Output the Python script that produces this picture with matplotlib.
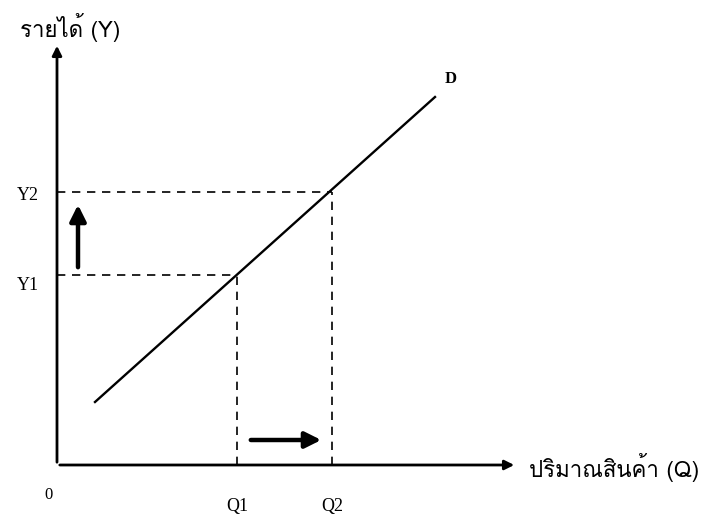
import matplotlib
matplotlib.use("Agg")
import matplotlib.pyplot as plt
from matplotlib import font_manager
from matplotlib.ft2font import FT2Font

# หา font ที่มีอักษรไทย
thai_font = "DejaVu Sans"
for f in font_manager.fontManager.ttflist:
    try:
        ft = FT2Font(f.fname)
        if ft.get_char_index(ord("ร")) and ft.get_char_index(ord("ณ")):
            thai_font = f.name
            break
    except Exception:
        pass

# ข้อมูล
q_values = [180, 275]
y_values = [190, 273]
q_labels = ["Q1", "Q2"]
y_labels = ["Y1", "Y2"]
demand_q = [38, 378]
demand_y = [63, 368]
x_max = 460
y_max = 422

fig = plt.figure(figsize=(7.05, 5.2), dpi=100)
ax = fig.add_axes([0, 0, 1, 1])
ax.set_xlim(-57, 648)
ax.set_ylim(-55, 465)
ax.axis("off")

# แกน
ax.annotate("", xy=(x_max, 0), xytext=(0, 0),
            arrowprops=dict(arrowstyle="-|>", lw=2, color="black", mutation_scale=14))
ax.annotate("", xy=(0, y_max), xytext=(0, 0),
            arrowprops=dict(arrowstyle="-|>", lw=2, color="black", mutation_scale=14))

# เส้น D
ax.plot(demand_q, demand_y, color="black", lw=1.7)
ax.text(demand_q[1] + 10, demand_y[1] + 18, "D", family="Liberation Serif",
        fontsize=12, fontweight="bold", ha="left", va="center")

# เส้นประ
for q, y in zip(q_values, y_values):
    ax.plot([0, q], [y, y], color="black", lw=1.2, ls=(0, (5, 4)))
    ax.plot([q, q], [0, y], color="black", lw=1.2, ls=(0, (5, 4)))

for q, lab in zip(q_values, q_labels):
    ax.text(q, -42, lab, family="Liberation Serif", fontsize=13, ha="center", va="center")
for y, lab in zip(y_values, y_labels):
    ax.text(-29, y - 10 if lab == "Y1" else y - 3, lab, family="Liberation Serif",
            fontsize=13, ha="center", va="center")
ax.text(-9, -30, "0", family="Liberation Serif", fontsize=12, ha="center", va="center")

# ลูกศรการเปลี่ยนแปลง
ax.annotate("", xy=(21, y_values[1] - 10), xytext=(21, y_values[0] + 5),
            arrowprops=dict(arrowstyle="-|>", lw=3.2, color="black", mutation_scale=24))
ax.annotate("", xy=(q_values[1] - 8, 25), xytext=(q_values[0] + 11, 25),
            arrowprops=dict(arrowstyle="-|>", lw=3.2, color="black", mutation_scale=24))

# ชื่อแกน
ax.text(13, 437, "รายได้ (Y)", family=[thai_font, "DejaVu Sans"], fontsize=16,
        ha="center", va="center")
ax.text(472, -2, "ปริมาณสินค้า (Q)", family=[thai_font, "DejaVu Sans"], fontsize=16,
        ha="left", va="center")

fig.savefig("out.png", dpi=100)
